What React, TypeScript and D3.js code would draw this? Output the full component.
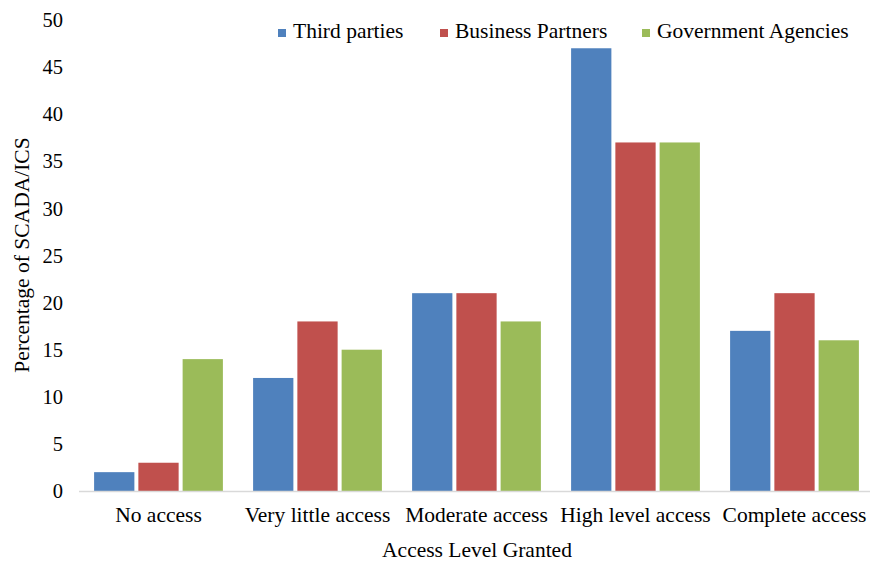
import React from "react";
import * as d3 from "d3";

const categories = ["No access", "Very little access", "Moderate access", "High level access", "Complete access"];
const seriesNames = ["Third parties", "Business Partners", "Government Agencies"];
const thirdParties = [2, 12, 21, 47, 17];
const businessPartners = [3, 18, 21, 37, 21];
const governmentAgencies = [14, 15, 18, 37, 16];
const yTicks = [0, 5, 10, 15, 20, 25, 30, 35, 40, 45, 50];
const colors = ["#4F81BD", "#C0504D", "#9BBB59"];

const W = 870, H = 562;
const plotLeft = 79, plotRight = 874, plotTop = 20, plotBottom = 491;
const font = "'Liberation Serif', 'Times New Roman', serif";

export default function App() {
  const series = [thirdParties, businessPartners, governmentAgencies];
  const x0 = d3.scaleBand<string>().domain(categories).range([plotLeft, plotRight]).paddingInner(0.19).paddingOuter(0.095);
  const x1 = d3.scaleBand<string>().domain(seriesNames).range([0, x0.bandwidth()]).paddingInner(0.09);
  const y = d3.scaleLinear().domain([0, 50]).range([plotBottom, plotTop]);

  const legendX = [278, 440, 642];

  return (
    <svg width={W} height={H} style={{ position: "absolute", left: 0, top: 0, background: "#fff" }}>
      {yTicks.map((t) => (
        <text key={t} x={63} y={y(t)} dy="0.35em" textAnchor="end" fontFamily={font} fontSize={20.5} fill="#000">
          {t}
        </text>
      ))}
      {categories.map((c, i) => (
        <g key={c}>
          {series.map((s, j) => (
            <rect
              key={j}
              x={(x0(c) as number) + (x1(seriesNames[j]) as number)}
              y={y(s[i])}
              width={x1.bandwidth()}
              height={y(0) - y(s[i])}
              fill={colors[j]}
            />
          ))}
          <text x={(x0(c) as number) + x0.bandwidth() / 2} y={522} textAnchor="middle" fontFamily={font} fontSize={21.5} fill="#000">
            {c}
          </text>
        </g>
      ))}
      <line x1={plotLeft} x2={plotRight} y1={plotBottom + 0.5} y2={plotBottom + 0.5} stroke="#d9d9d9" strokeWidth={1.5} />
      {seriesNames.map((n, j) => (
        <g key={n}>
          <rect x={legendX[j]} y={29} width={8} height={8} fill={colors[j]} />
          <text x={legendX[j] + 15} y={38} fontFamily={font} fontSize={21.5} fill="#000">
            {n}
          </text>
        </g>
      ))}
      <text x={477} y={557} textAnchor="middle" fontFamily={font} fontSize={21.5} fill="#000">
        Access Level Granted
      </text>
      <text transform="translate(29,255) rotate(-90)" textAnchor="middle" fontFamily={font} fontSize={21.5} fill="#000">
        Percentage of SCADA/ICS
      </text>
    </svg>
  );
}
